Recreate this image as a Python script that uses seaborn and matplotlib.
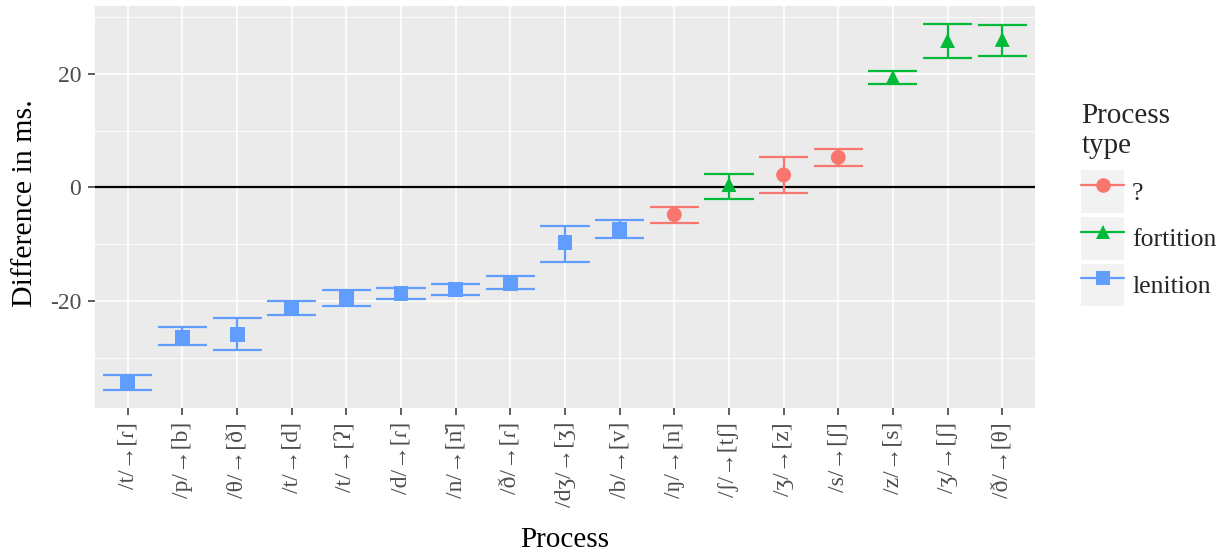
import numpy as np
import pandas as pd
import matplotlib
matplotlib.use("Agg")
import matplotlib.pyplot as plt
import seaborn as sns
from matplotlib.lines import Line2D
from matplotlib.patches import Rectangle
from matplotlib.legend_handler import HandlerLine2D

processes = ["/t/→[ɾ]", "/p/→[b]", "/θ/→[ð]", "/t/→[d]", "/t/→[ʔ]", "/d/→[ɾ]",
             "/n/→[n\u0306]", "/ð/→[ɾ]", "/dʒ/→[ʒ]", "/b/→[v]", "/ŋ/→[n]",
             "/ʃ/→[tʃ]", "/ʒ/→[z]", "/s/→[ʃ]", "/z/→[s]", "/ʒ/→[ʃ]", "/ð/→[θ]"]
ptype = ["lenition"] * 10 + ["?", "fortition", "?", "?", "fortition", "fortition", "fortition"]
mean = [-34.4, -26.4, -26.0, -21.4, -19.4, -18.7, -18.0, -16.9, -9.7, -7.4,
        -4.8, 0.5, 2.2, 5.3, 19.4, 25.9, 26.1]
upper = [-33.0, -24.7, -23.1, -20.1, -18.1, -17.8, -17.1, -15.7, -6.8, -5.7,
         -3.4, 2.3, 5.3, 6.7, 20.6, 28.8, 28.7]
lower = [-35.8, -27.8, -28.7, -22.5, -20.9, -19.7, -19.0, -18.0, -13.1, -9.0,
         -6.2, -2.1, -0.9, 3.8, 18.2, 22.8, 23.2]

type_order = ["?", "fortition", "lenition"]
palette = {"?": "#F8766D", "fortition": "#00BA38", "lenition": "#619CFF"}
markers = {"?": "o", "fortition": "^", "lenition": "s"}

df = pd.DataFrame({"Process": processes, "type": ptype, "mean": mean,
                   "lower": lower, "upper": upper})

sns.set_theme(style="white")
plt.rcParams["font.family"] = ["Liberation Serif", "DejaVu Serif"]

fig = plt.figure(figsize=(12.25, 5.53), dpi=100)
ax = fig.add_axes([95 / 1225, 145 / 553, 940 / 1225, 402 / 553])
ax.set_facecolor("#EBEBEB")

xpos = np.arange(len(processes))
# grid
for yv in [-30, -10, 10, 30]:
    ax.axhline(yv, color="white", lw=0.6, zorder=0)
for yv in [-20, 0, 20]:
    ax.axhline(yv, color="white", lw=1.2, zorder=0)
for xv in xpos:
    ax.axvline(xv, color="white", lw=1.2, zorder=0)

ax.axhline(0, color="black", lw=1.6, zorder=1)

# error bars
w = 0.45
cols = [palette[t] for t in df["type"]]
ax.vlines(xpos, df["lower"], df["upper"], colors=cols, lw=1.6, zorder=2)
ax.hlines(df["upper"], xpos - w, xpos + w, colors=cols, lw=1.6, zorder=2)
ax.hlines(df["lower"], xpos - w, xpos + w, colors=cols, lw=1.6, zorder=2)

sns.scatterplot(data=df, x="Process", y="mean", hue="type", style="type",
                hue_order=type_order, style_order=type_order, palette=palette,
                markers=markers, s=115, linewidth=0, legend=False, ax=ax, zorder=3)

ax.set_xlim(-0.6, len(processes) - 0.4)
ax.set_ylim(-38.9, 32.0)
ax.set_yticks([-20, 0, 20])
ax.set_yticklabels(["-20", "0", "20"])
ax.set_xticks(xpos)
ax.set_xticklabels(processes, rotation=90, ha="center", va="top")
for s in ax.spines.values():
    s.set_visible(False)
ax.tick_params(axis="both", length=5, width=1.1, color="#333333",
               labelcolor="#4D4D4D", labelsize=17, pad=5, bottom=True, left=True)
ax.set_xlabel("Process", fontsize=21, color="black")
ax.set_ylabel("Difference in ms.", fontsize=21.5, color="black")
ax.xaxis.set_label_coords(0.5, -0.297)
ax.yaxis.set_label_coords(-0.061, 0.51)


class HandlerKey(HandlerLine2D):
    def create_artists(self, legend, orig_handle, xdescent, ydescent, width,
                       height, fontsize, trans):
        rect = Rectangle((-xdescent, -ydescent), width, height,
                         facecolor="#F2F2F2", edgecolor="none", transform=trans)
        arts = super().create_artists(legend, orig_handle, xdescent, ydescent,
                                      width, height, fontsize, trans)
        return [rect] + list(arts)


handles = [Line2D([0], [0], color=palette[t], marker=markers[t], lw=1.6,
                  markersize=10.5, markeredgewidth=0) for t in type_order]
leg = fig.legend(handles, type_order, title="Process\ntype",
                 loc="upper left", bbox_to_anchor=(1071 / 1225, 460 / 553),
                 frameon=False, fontsize=18.5, title_fontsize=21,
                 handlelength=1.68, handleheight=2.17, labelspacing=0.16,
                 handletextpad=0.3, borderaxespad=0, alignment="left",
                 handler_map={Line2D: HandlerKey(numpoints=1)})
leg._legend_box.sep = 8

fig.savefig("out.png", dpi=100)
